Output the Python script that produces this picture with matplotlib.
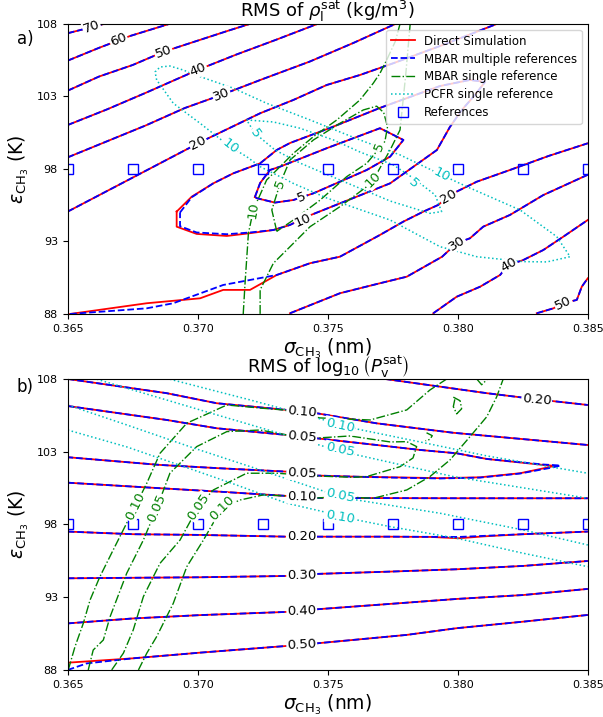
import matplotlib.pyplot as plt

# reference state points (sigma_CH3 in nm, epsilon_CH3 in K)
ref_sigma = [0.365, 0.3675, 0.370, 0.3725, 0.375, 0.3775, 0.380, 0.3825, 0.385]
ref_eps = [98, 98, 98, 98, 98, 98, 98, 98, 98]

xticks = [0.365, 0.370, 0.375, 0.380, 0.385]
xtick_labels = ['0.365', '0.370', '0.375', '0.380', '0.385']
yticks = [88, 93, 98, 103, 108]

# ---------------- panel a: RMS of rho_l^sat, contour paths (sigma, eps) ----------------
# direct simulation
rho_ds_70 = [(0.3650, 107.36), (0.3659, 107.77), (0.3664, 108.0)]
rho_ds_60 = [(0.3650, 105.47), (0.3662, 106.35), (0.3674, 107.17), (0.3689, 108.0)]
rho_ds_50 = [(0.3650, 103.40), (0.3662, 104.37), (0.3675, 105.17), (0.3687, 106.09), (0.3700, 106.85),
             (0.3712, 107.55), (0.3720, 108.0)]
rho_ds_40 = [(0.3650, 101.03), (0.3665, 102.10), (0.3680, 103.25), (0.3692, 104.20), (0.3700, 104.83),
             (0.3715, 105.90), (0.3730, 106.90), (0.3746, 108.0)]
rho_ds_30 = [(0.3650, 98.80), (0.3665, 99.90), (0.3680, 101.00), (0.3695, 102.20), (0.3709, 103.10),
             (0.3725, 104.20), (0.3743, 105.40), (0.3760, 106.70), (0.3776, 108.0)]
rho_ds_20_hi = [(0.3650, 95.06), (0.36855, 98.39), (0.37002, 99.77), (0.37041, 100.12), (0.3724, 101.84),
                (0.37368, 102.76), (0.37496, 103.79), (0.37624, 104.48), (0.37752, 105.29), (0.3795, 106.60),
                (0.3815, 108.0)]
rho_ds_10 = [(0.36919, 95.06), (0.36977, 96.09), (0.37060, 97.01), (0.37137, 97.70), (0.37240, 98.39),
             (0.37304, 99.31), (0.37355, 99.79), (0.37509, 100.83), (0.37701, 102.21), (0.37932, 103.72),
             (0.38047, 104.14), (0.38105, 104.0), (0.38066, 103.10), (0.38016, 102.07), (0.37970, 100.90),
             (0.37920, 99.31), (0.37740, 97.01), (0.37419, 94.71), (0.37355, 94.14), (0.37291, 93.79),
             (0.37201, 93.57), (0.37112, 93.38), (0.36996, 93.52), (0.36919, 94.02), (0.36919, 95.06)]
rho_ds_5 = [(0.37220, 96.07), (0.37240, 97.03), (0.37278, 97.93), (0.37317, 98.16), (0.37496, 99.43),
            (0.37701, 100.81), (0.37791, 100.0), (0.37740, 98.85), (0.37650, 97.93), (0.37445, 96.32),
            (0.37368, 95.86), (0.37297, 95.68), (0.37228, 95.98), (0.37220, 96.07)]
rho_ds_20_lo = [(0.36509, 88.0), (0.36804, 88.74), (0.37009, 89.08), (0.37098, 89.66), (0.37201, 89.66),
                (0.37304, 90.69), (0.37432, 91.50), (0.37547, 91.95), (0.37701, 93.45), (0.37791, 94.37),
                (0.37868, 95.06), (0.37925, 95.52), (0.37964, 96.09), (0.37996, 96.44), (0.38073, 97.12),
                (0.38201, 97.93), (0.38350, 98.90), (0.38500, 99.77)]
rho_ds_30_lo = [(0.37355, 88.05), (0.37547, 89.43), (0.37701, 90.12), (0.37804, 90.57), (0.37940, 91.95),
                (0.37996, 92.88), (0.38047, 93.22), (0.38098, 94.02), (0.38201, 94.83), (0.38329, 96.20),
                (0.38500, 97.60)]
rho_ds_40_lo = [(0.37906, 88.05), (0.37996, 89.19), (0.38086, 89.88), (0.38163, 90.69), (0.38195, 91.38),
                (0.38252, 91.72), (0.38329, 92.41), (0.38406, 93.33), (0.38500, 94.48)]
rho_ds_50_lo = [(0.38304, 88.05), (0.38368, 88.39), (0.38406, 88.74), (0.38458, 88.97), (0.38477, 89.88),
                (0.38500, 90.46)]

# MBAR multiple references (where it differs from direct simulation)
rho_mm_10 = [(0.36932, 95.0), (0.36977, 96.05), (0.37060, 97.01), (0.37137, 97.70), (0.37240, 98.39),
             (0.37304, 99.31), (0.37355, 99.79), (0.37509, 100.83), (0.37701, 102.21), (0.37932, 103.72),
             (0.38047, 104.14), (0.38105, 104.0), (0.38066, 103.10), (0.38016, 102.07), (0.37970, 100.90),
             (0.37920, 99.31), (0.37740, 97.01), (0.37419, 94.71), (0.37355, 94.14), (0.37291, 93.79),
             (0.37201, 93.62), (0.37112, 93.50), (0.36996, 93.62), (0.36932, 94.05), (0.36932, 95.0)]
rho_mm_20_lo = [(0.36509, 88.0), (0.36804, 88.39), (0.36906, 88.74), (0.37098, 90.0), (0.37304, 90.69),
                (0.37432, 91.50), (0.37547, 91.95), (0.37701, 93.45), (0.37791, 94.37), (0.37868, 95.06),
                (0.37925, 95.52), (0.37964, 96.09), (0.37996, 96.44), (0.38073, 97.12), (0.38201, 97.93),
                (0.38350, 98.90), (0.38500, 99.77)]

# MBAR single reference
rho_ms_10_a = [(0.37175, 88.0), (0.37182, 90.12), (0.37195, 93.57), (0.37214, 95.17), (0.37265, 97.24),
               (0.37291, 97.70), (0.37368, 99.08), (0.37445, 100.23), (0.37535, 101.38), (0.37624, 102.76),
               (0.37675, 103.91), (0.37701, 104.60), (0.37727, 105.52), (0.37760, 106.80), (0.37778, 108.0)]
rho_ms_10_b = [(0.37817, 108.0), (0.37800, 104.50), (0.37778, 100.69), (0.37740, 99.31), (0.37675, 97.24),
               (0.37650, 96.78), (0.37547, 95.40), (0.37432, 94.02), (0.37355, 92.64), (0.37291, 91.50),
               (0.37240, 89.66), (0.37240, 88.0)]
rho_ms_5 = [(0.37304, 93.70), (0.37285, 95.17), (0.37317, 97.01), (0.37355, 98.62), (0.37445, 100.0),
            (0.37547, 101.15), (0.37637, 102.07), (0.37688, 102.33), (0.37715, 101.90), (0.37730, 100.92),
            (0.37720, 99.90), (0.37688, 99.20), (0.37650, 98.39), (0.37573, 97.47), (0.37471, 95.86),
            (0.37368, 94.48), (0.37304, 93.70)]

# PCFR single reference
rho_pc_10 = [(0.36842, 104.14), (0.36836, 104.69), (0.36855, 105.03), (0.36893, 105.10), (0.36943, 104.83),
             (0.37009, 104.37), (0.37137, 103.57), (0.37265, 102.53), (0.37432, 101.38), (0.37624, 100.0),
             (0.37778, 98.97), (0.37938, 97.59), (0.38035, 96.78), (0.38240, 95.17), (0.38381, 93.33),
             (0.38432, 91.95), (0.38343, 91.59), (0.38252, 91.61), (0.38073, 91.95), (0.37932, 92.64),
             (0.37740, 94.48), (0.37624, 95.20), (0.37496, 96.00), (0.37368, 97.00), (0.37240, 98.16),
             (0.37188, 98.85), (0.37124, 99.54), (0.37009, 101.15), (0.36906, 102.53), (0.36842, 104.14)]
rho_pc_5 = [(0.37188, 101.38), (0.37291, 101.24), (0.37393, 100.81), (0.37522, 100.0), (0.37624, 99.17),
            (0.37752, 98.28), (0.37828, 97.38), (0.37913, 96.21), (0.37938, 95.06), (0.37893, 94.94),
            (0.37740, 95.79), (0.37547, 97.24), (0.37393, 98.41), (0.37297, 99.31), (0.37220, 100.46),
            (0.37188, 101.38)]

rho_ds_labels = [('70', 0.36592, 107.77, 20), ('60', 0.36695, 106.94, 22), ('50', 0.36868, 106.09, 20),
                 ('40', 0.37002, 104.83, 22), ('30', 0.37092, 103.10, 22), ('20', 0.37002, 99.77, 27),
                 ('5', 0.37400, 96.07, 22), ('10', 0.37405, 94.48, 24), ('20', 0.37964, 96.09, 30),
                 ('30', 0.37996, 92.88, 33), ('40', 0.38195, 91.38, 30), ('50', 0.38406, 88.74, 25)]
rho_ms_labels = [('10', 0.37214, 95.17, 82), ('5', 0.37317, 97.01, 70), ('5', 0.37700, 99.50, 68),
                 ('10', 0.37675, 97.24, 45)]
rho_pc_labels = [('10', 0.37124, 99.54, -38), ('10', 0.37938, 97.59, -28), ('5', 0.37220, 100.46, -55),
                 ('5', 0.37829, 97.00, -42)]

# ---------------- panel b: RMS of log10(P_v^sat) ----------------
p_ds_010_hi = [(0.3650, 108.0), (0.36881, 107.02), (0.37073, 106.33), (0.37342, 105.87), (0.37458, 105.64),
               (0.37688, 104.95), (0.37983, 104.30), (0.3850, 103.46)]
p_ds_020_hi = [(0.3772, 108.0), (0.3790, 107.55), (0.38112, 107.02), (0.38304, 106.60), (0.3850, 106.21)]
p_ds_005 = [(0.3650, 106.14), (0.36881, 105.18), (0.37073, 104.61), (0.37342, 104.15), (0.37458, 103.92),
            (0.37688, 103.46), (0.37855, 103.12), (0.37996, 102.89), (0.38112, 102.50), (0.38329, 102.09),
            (0.38370, 102.03), (0.38355, 101.95), (0.38240, 101.52), (0.38086, 101.24), (0.37932, 101.18),
            (0.37750, 101.24), (0.37612, 101.28), (0.37458, 101.36), (0.37342, 101.63), (0.37086, 101.86),
            (0.36855, 102.09), (0.3650, 102.62)]
p_ds_010_lo = [(0.3650, 100.87), (0.36855, 100.49), (0.37086, 100.25), (0.37342, 99.96), (0.37458, 99.82),
               (0.3800, 99.80), (0.3850, 99.80)]
p_ds_020_lo = [(0.3650, 97.51), (0.36751, 97.33), (0.37009, 97.28), (0.37342, 97.16), (0.37740, 97.16),
               (0.37900, 97.14), (0.38002, 97.05), (0.38100, 97.18), (0.38252, 97.33), (0.3850, 97.51)]
p_ds_030 = [(0.3650, 94.30), (0.37009, 94.37), (0.37342, 94.46), (0.37458, 94.60), (0.37740, 94.76),
            (0.37996, 94.92), (0.38252, 95.15), (0.3850, 95.49)]
p_ds_040 = [(0.3650, 91.20), (0.36751, 91.54), (0.37009, 91.77), (0.37342, 91.99), (0.37458, 92.17),
            (0.37740, 92.54), (0.37996, 92.88), (0.38252, 93.15), (0.3850, 93.57)]
p_ds_050 = [(0.3650, 88.50), (0.36751, 88.80), (0.37009, 89.19), (0.37342, 89.65), (0.37458, 89.83),
            (0.37804, 90.41), (0.37996, 90.87), (0.38252, 91.32), (0.3850, 91.78)]

p_mm_005 = [(0.3650, 106.14), (0.36881, 105.18), (0.37073, 104.61), (0.37342, 104.15), (0.37458, 103.92),
            (0.37688, 103.46), (0.37855, 103.12), (0.37996, 102.89), (0.38112, 102.50), (0.38329, 102.12),
            (0.38395, 102.05), (0.38360, 101.90), (0.38240, 101.50), (0.38086, 101.22), (0.37932, 101.16),
            (0.37750, 101.22), (0.37612, 101.28), (0.37458, 101.36), (0.37342, 101.63), (0.37086, 101.86),
            (0.36855, 102.09), (0.3650, 102.62)]
p_mm_020_lo = [(0.3650, 97.51), (0.36751, 97.33), (0.37009, 97.28), (0.37342, 97.16), (0.37740, 97.16),
               (0.38002, 97.14), (0.38252, 97.33), (0.3850, 97.51)]
p_mm_050 = [(0.3650, 88.0), (0.36573, 88.45), (0.36751, 88.80), (0.37009, 89.19), (0.37342, 89.65),
            (0.37458, 89.83), (0.37804, 90.41), (0.37996, 90.87), (0.38252, 91.32), (0.3850, 91.78)]

p_ms_010_a = [(0.36502, 88.0), (0.36528, 89.60), (0.36560, 91.21), (0.36586, 92.81), (0.36624, 94.42),
              (0.36675, 96.25), (0.36720, 97.85), (0.36759, 99.22), (0.36804, 100.83), (0.36855, 102.89),
              (0.36958, 104.96), (0.37112, 106.21), (0.37240, 106.0), (0.37329, 105.87), (0.37470, 105.32),
              (0.37663, 105.18), (0.37804, 105.87), (0.37893, 107.24), (0.37958, 108.0)]
p_ms_005 = [(0.36579, 88.0), (0.36598, 89.37), (0.36637, 90.06), (0.36663, 91.66), (0.36727, 94.65),
            (0.36791, 96.93), (0.36842, 99.11), (0.36893, 101.52), (0.36996, 103.35), (0.37112, 104.38),
            (0.37240, 104.49), (0.37342, 104.15), (0.37458, 103.94), (0.37586, 104.08), (0.37740, 103.67),
            (0.37804, 103.69), (0.37842, 103.35), (0.37828, 102.57), (0.37778, 101.97), (0.37650, 101.29),
            (0.37598, 101.24), (0.37458, 101.33), (0.37304, 101.52), (0.37188, 101.52), (0.37137, 101.06),
            (0.37060, 100.37), (0.37002, 99.22), (0.36932, 96.93), (0.36855, 95.33), (0.36791, 93.04),
            (0.36752, 90.75), (0.36714, 89.15), (0.36669, 88.0)]
p_ms_010_b = [(0.36772, 88.0), (0.36804, 89.15), (0.36842, 90.29), (0.36906, 92.58), (0.36958, 95.10),
              (0.37022, 96.93), (0.37092, 99.11), (0.37163, 99.68), (0.37252, 100.03), (0.37342, 99.96),
              (0.37458, 99.82), (0.37547, 99.91), (0.37675, 99.80), (0.37804, 100.37), (0.37893, 101.29),
              (0.37970, 102.43), (0.38047, 104.03), (0.38112, 105.41), (0.38150, 106.78), (0.38175, 108.0)]
p_ms_isl_1 = [(0.37983, 106.75), (0.38009, 106.50), (0.38015, 105.95), (0.37996, 105.60), (0.37983, 106.10),
              (0.37990, 106.70)]
p_ms_isl_2 = [(0.37880, 104.30), (0.37902, 104.10), (0.37893, 103.85), (0.37876, 103.75)]
p_ms_isl_3 = [(0.38073, 108.0), (0.38092, 107.60), (0.38112, 107.95)]

p_pc_010_hi = [(0.36893, 107.98), (0.37201, 106.56), (0.37509, 105.07), (0.37612, 104.56), (0.37855, 103.67),
               (0.38112, 102.71), (0.3850, 101.52)]
p_pc_005_hi = [(0.36612, 107.98), (0.37009, 105.87), (0.37509, 103.24), (0.37612, 102.78), (0.37983, 101.29),
               (0.3850, 99.80)]
p_pc_005_lo = [(0.3650, 106.21), (0.36727, 104.84), (0.36983, 103.26), (0.3724, 101.75), (0.37509, 100.14),
               (0.37612, 99.68), (0.37932, 98.77), (0.38252, 97.62), (0.3850, 96.59)]
p_pc_010_lo = [(0.3650, 104.49), (0.36727, 103.33), (0.36983, 101.75), (0.37137, 100.79), (0.37342, 99.46),
               (0.37509, 98.77), (0.37612, 98.31), (0.3774, 97.85), (0.37996, 97.05), (0.38252, 96.02),
               (0.3850, 95.10)]

p_ds_labels = [('0.10', 0.3740, 105.75, -5), ('0.05', 0.3740, 104.03, -5), ('0.05', 0.3740, 101.52, -3),
               ('0.10', 0.3740, 99.91, -1), ('0.20', 0.3740, 97.16, 0), ('0.30', 0.3740, 94.52, 1),
               ('0.40', 0.3740, 92.08, 2), ('0.50', 0.3740, 89.74, 3), ('0.20', 0.38304, 106.60, -5)]
p_ms_labels = [('0.10', 0.36759, 99.22, 64), ('0.05', 0.36842, 99.11, 67), ('0.05', 0.37002, 99.22, 56),
               ('0.10', 0.37092, 99.11, 45)]
p_pc_labels = [('0.10', 0.37547, 104.80, -12), ('0.05', 0.37547, 103.12, -12), ('0.05', 0.37547, 99.95, -12),
               ('0.10', 0.37547, 98.50, -10)]


def draw(ax, paths, label, **kw):
    for i, p in enumerate(paths):
        xs, ys = zip(*p)
        ax.plot(xs, ys, label=label if i == 0 else None, **kw)


def tag(ax, items, color):
    for s, x, y, rot in items:
        ax.text(x, y, s, color=color, fontsize=9.5, rotation=rot, ha='center', va='center',
                rotation_mode='anchor', bbox=dict(fc='white', ec='none', pad=0.6))


fig = plt.figure(figsize=(6.03, 7.17), dpi=100)
ax1 = fig.add_axes([0.1123, 0.5621, 0.8624, 0.4045])
ax2 = fig.add_axes([0.1123, 0.0656, 0.8624, 0.4059])

red = dict(color='r', lw=1.3, ls='-')
blue = dict(color='b', lw=1.3, ls='--')
green = dict(color='g', lw=1.0, ls='-.')
cyan = dict(color='c', lw=1.1, ls=':')

# panel a
draw(ax1, [rho_ds_70, rho_ds_60, rho_ds_50, rho_ds_40, rho_ds_30, rho_ds_20_hi, rho_ds_10, rho_ds_5,
           rho_ds_20_lo, rho_ds_30_lo, rho_ds_40_lo, rho_ds_50_lo], 'Direct Simulation', **red)
draw(ax1, [rho_ds_70, rho_ds_60, rho_ds_50, rho_ds_40, rho_ds_30, rho_ds_20_hi, rho_mm_10, rho_ds_5,
           rho_mm_20_lo, rho_ds_30_lo, rho_ds_40_lo, rho_ds_50_lo], 'MBAR multiple references', **blue)
draw(ax1, [rho_ms_10_a, rho_ms_10_b, rho_ms_5], 'MBAR single reference', **green)
draw(ax1, [rho_pc_10, rho_pc_5], 'PCFR single reference', **cyan)
ax1.plot(ref_sigma, ref_eps, 's', mfc='none', mec='b', ms=7, ls='none', label='References')
tag(ax1, rho_ds_labels, 'k')
tag(ax1, rho_ms_labels, 'g')
tag(ax1, rho_pc_labels, 'c')
ax1.set_title(r'RMS of $\rho_{\rm l}^{\rm sat}$ (kg/m$^3$)', fontsize=13, pad=3)
ax1.legend(loc='upper right', fontsize=8.5, framealpha=0.8, labelspacing=0.42)

# panel b
draw(ax2, [p_ds_010_hi, p_ds_020_hi, p_ds_005, p_ds_010_lo, p_ds_020_lo, p_ds_030, p_ds_040, p_ds_050],
     None, **red)
draw(ax2, [p_ds_010_hi, p_ds_020_hi, p_mm_005, p_ds_010_lo, p_mm_020_lo, p_ds_030, p_ds_040, p_mm_050],
     None, **blue)
draw(ax2, [p_ms_010_a, p_ms_005, p_ms_010_b, p_ms_isl_1, p_ms_isl_2, p_ms_isl_3], None, **green)
draw(ax2, [p_pc_010_hi, p_pc_005_hi, p_pc_005_lo, p_pc_010_lo], None, **cyan)
ax2.plot(ref_sigma, ref_eps, 's', mfc='none', mec='b', ms=7, ls='none')
tag(ax2, p_ds_labels, 'k')
tag(ax2, p_ms_labels, 'g')
tag(ax2, p_pc_labels, 'c')
ax2.set_title(r'RMS of $\log_{10}\left(P_{\rm v}^{\rm sat}\right)$', fontsize=13, pad=3)

for ax in (ax1, ax2):
    ax.set_xlim(0.365, 0.385)
    ax.set_ylim(88, 108)
    ax.set_xticks(xticks)
    ax.set_xticklabels(xtick_labels)
    ax.set_yticks(yticks)
    ax.tick_params(labelsize=8)
    ax.set_xlabel(r'$\sigma_{\rm CH_3}$ (nm)', fontsize=13.5, labelpad=2)
    ax.set_ylabel(r'$\varepsilon_{\rm CH_3}$ (K)', fontsize=13.5)

fig.text(0.028, 0.946, 'a)', fontsize=12, va='center')
fig.text(0.028, 0.460, 'b)', fontsize=12, va='center')

fig.savefig('out.png', dpi=100)
